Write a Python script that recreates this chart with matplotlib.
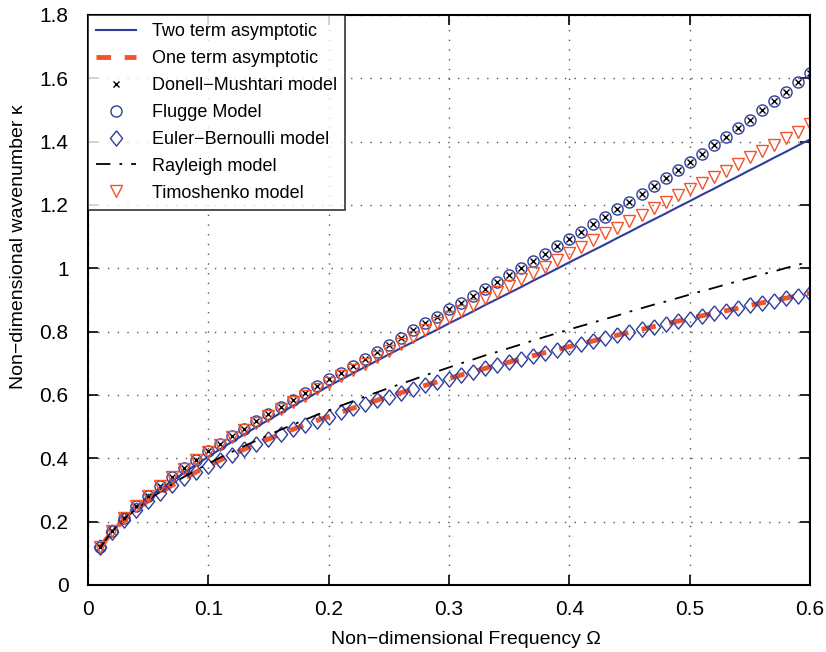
"""Dispersion curves: non-dimensional wavenumber vs frequency for several shell/beam models."""

import matplotlib

matplotlib.use("Agg")
import matplotlib.pyplot as plt
import numpy as np

plt.rcParams["font.family"] = ["Liberation Sans", "DejaVu Sans"]

omega = [
    0.01, 0.02, 0.03, 0.04, 0.05, 0.06, 0.07, 0.08, 0.09, 0.10,
    0.11, 0.12, 0.13, 0.14, 0.15, 0.16, 0.17, 0.18, 0.19, 0.20,
    0.21, 0.22, 0.23, 0.24, 0.25, 0.26, 0.27, 0.28, 0.29, 0.30,
    0.31, 0.32, 0.33, 0.34, 0.35, 0.36, 0.37, 0.38, 0.39, 0.40,
    0.41, 0.42, 0.43, 0.44, 0.45, 0.46, 0.47, 0.48, 0.49, 0.50,
    0.51, 0.52, 0.53, 0.54, 0.55, 0.56, 0.57, 0.58, 0.59, 0.60,
]

two_term = [
    0.120, 0.170, 0.209, 0.243, 0.274, 0.302, 0.329, 0.355, 0.380, 0.405,
    0.429, 0.453, 0.476, 0.499, 0.521, 0.543, 0.565, 0.586, 0.607, 0.628,
    0.648, 0.668, 0.688, 0.708, 0.728, 0.748, 0.767, 0.787, 0.806, 0.826,
    0.845, 0.864, 0.884, 0.903, 0.922, 0.941, 0.961, 0.980, 0.999, 1.019,
    1.038, 1.057, 1.076, 1.096, 1.115, 1.135, 1.154, 1.173, 1.193, 1.212,
    1.232, 1.251, 1.271, 1.290, 1.310, 1.329, 1.349, 1.368, 1.388, 1.407,
]

flugge = [
    0.121, 0.171, 0.212, 0.248, 0.282, 0.312, 0.341, 0.368, 0.396, 0.422,
    0.446, 0.469, 0.494, 0.517, 0.541, 0.562, 0.585, 0.606, 0.627, 0.649,
    0.670, 0.692, 0.714, 0.736, 0.758, 0.780, 0.804, 0.826, 0.847, 0.871,
    0.892, 0.914, 0.935, 0.958, 0.980, 1.002, 1.024, 1.046, 1.070, 1.093,
    1.116, 1.140, 1.162, 1.186, 1.210, 1.236, 1.261, 1.286, 1.311, 1.336,
    1.362, 1.388, 1.415, 1.443, 1.469, 1.499, 1.528, 1.557, 1.587, 1.618,
]

# Donnell-Mushtari sits on top of the Flugge points
donnell = list(flugge)

euler_bernoulli = [
    0.119, 0.168, 0.206, 0.238, 0.266, 0.291, 0.315, 0.337, 0.357, 0.376,
    0.395, 0.412, 0.429, 0.445, 0.461, 0.476, 0.491, 0.505, 0.519, 0.532,
    0.545, 0.558, 0.571, 0.583, 0.595, 0.607, 0.618, 0.630, 0.641, 0.652,
    0.663, 0.673, 0.684, 0.694, 0.704, 0.714, 0.724, 0.734, 0.743, 0.753,
    0.762, 0.771, 0.780, 0.789, 0.798, 0.807, 0.816, 0.824, 0.833, 0.841,
    0.850, 0.858, 0.866, 0.874, 0.883, 0.891, 0.898, 0.906, 0.914, 0.922,
]

# one-term asymptote follows the Euler-Bernoulli curve
one_term = list(euler_bernoulli)

rayleigh = [
    0.119, 0.169, 0.207, 0.240, 0.268, 0.294, 0.319, 0.342, 0.363, 0.383,
    0.403, 0.421, 0.439, 0.456, 0.473, 0.490, 0.506, 0.521, 0.537, 0.551,
    0.566, 0.580, 0.595, 0.608, 0.622, 0.635, 0.648, 0.662, 0.674, 0.687,
    0.700, 0.712, 0.725, 0.736, 0.748, 0.760, 0.772, 0.784, 0.795, 0.807,
    0.818, 0.829, 0.840, 0.851, 0.863, 0.874, 0.885, 0.895, 0.906, 0.917,
    0.928, 0.938, 0.949, 0.959, 0.970, 0.981, 0.990, 1.001, 1.011, 1.022,
]

timoshenko = [
    0.121, 0.171, 0.212, 0.248, 0.281, 0.311, 0.340, 0.367, 0.394, 0.419,
    0.443, 0.466, 0.490, 0.512, 0.535, 0.556, 0.578, 0.598, 0.619, 0.639,
    0.659, 0.679, 0.699, 0.719, 0.739, 0.762, 0.784, 0.805, 0.826, 0.847,
    0.866, 0.885, 0.906, 0.926, 0.944, 0.965, 0.986, 1.005, 1.026, 1.048,
    1.068, 1.089, 1.110, 1.128, 1.149, 1.169, 1.189, 1.210, 1.230, 1.249,
    1.270, 1.289, 1.308, 1.329, 1.350, 1.370, 1.389, 1.410, 1.431, 1.456,
]

BLUE = "#2e3d9c"
RED = "#f2542a"

# slightly taller-than-wide diamond, like the MATLAB one
DIAMOND = [(0, 1), (0.8, 0), (0, -1), (-0.8, 0), (0, 1)]

fig = plt.figure(figsize=(8.26, 6.52), dpi=100)
ax = fig.add_axes([0.1065, 0.1028, 0.8741, 0.8742])

ax.plot(omega, two_term, color=BLUE, lw=1.5, label="Two term asymptotic")
ax.plot(omega, one_term, color=RED, lw=3.5, ls=(0, (3, 2.8)),
        label="One term asymptotic")
ax.plot(omega, donnell, ls="none", marker="x", ms=5, mew=1.0, color="black",
        label="Donell\u2212Mushtari model")
ax.plot(omega, flugge, ls="none", marker="o", ms=8, mfc="none", mew=1.0,
        color=BLUE, label="Flugge Model")
ax.plot(omega, euler_bernoulli, ls="none", marker=DIAMOND, ms=11, mfc="none",
        mew=1.0, color=BLUE, label="Euler\u2212Bernoulli model")
ax.plot(omega, rayleigh, color="black", lw=1.3, ls=(0, (8, 5, 1.5, 5)),
        label="Rayleigh model")
ax.plot(omega, timoshenko, ls="none", marker="v", ms=9, mfc="none", mew=1.0,
        color=RED, label="Timoshenko model")

ax.set_xlim(0, 0.6)
ax.set_ylim(0, 1.8)
ax.set_xticks(np.arange(0, 0.61, 0.1))
ax.set_xticklabels(["0", "0.1", "0.2", "0.3", "0.4", "0.5", "0.6"])
ax.set_yticks(np.arange(0, 1.81, 0.2))
ax.set_yticklabels(["0", "0.2", "0.4", "0.6", "0.8", "1", "1.2", "1.4", "1.6", "1.8"])
ax.tick_params(direction="in", length=7, width=1.2, top=True, right=True,
               labelsize=15)
ax.tick_params(axis="y", pad=14)
ax.tick_params(axis="x", pad=11)
ax.grid(True, color="#555555", ls=(0, (1, 6)), lw=1.0)
for s in ax.spines.values():
    s.set_linewidth(1.5)

ax.set_xlabel("Non\u2212dimensional Frequency \u03a9", fontsize=14)
ax.set_ylabel("Non\u2212dimensional wavenumber \u03ba", fontsize=14)
ax.xaxis.set_label_coords(0.524, -0.08)
ax.yaxis.set_label_coords(-0.085, 0.593)

leg = ax.legend(loc="upper left", fontsize=13, frameon=True, fancybox=False,
                edgecolor="black", borderaxespad=0, handlelength=2.2,
                labelspacing=0.55, borderpad=0.45, handletextpad=0.9)
leg.get_frame().set_linewidth(1.2)

fig.savefig("out.png", dpi=100)
